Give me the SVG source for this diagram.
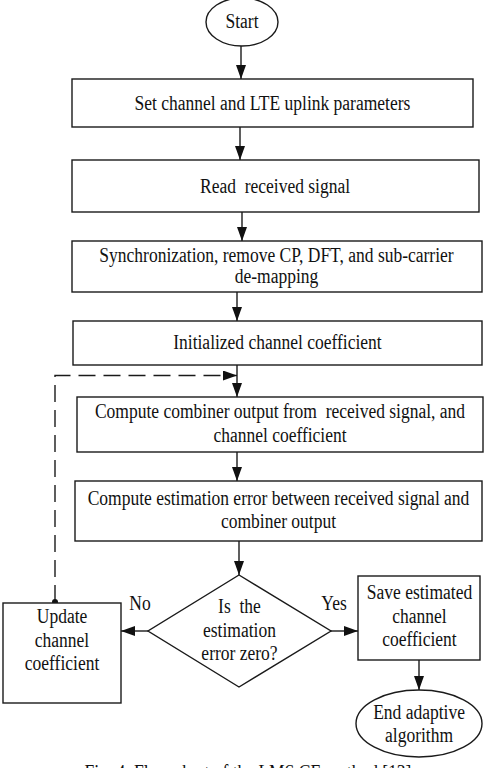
<svg xmlns="http://www.w3.org/2000/svg" width="486" height="768" viewBox="0 0 486 768">
<defs>
<marker id="ah" markerWidth="14" markerHeight="10" refX="14" refY="5" orient="auto" markerUnits="userSpaceOnUse">
<path d="M0,0 L14,5 L0,10 z" fill="#111"/>
</marker>
</defs>
<style>
.box{fill:#fff;stroke:#1a1a1a;stroke-width:1.4}
.ln{fill:none;stroke:#1a1a1a;stroke-width:1.4}
.dash{fill:none;stroke:#1a1a1a;stroke-width:1.4;stroke-dasharray:17 8}
text{font-family:"Liberation Serif","Times New Roman",serif;font-size:20px;fill:#111;text-anchor:middle}
.t{transform:scale(0.875,1)}
</style>
<rect width="486" height="768" fill="#fff"/>
<g id="connectors">
<path class="ln" d="M241,46 V79" marker-end="url(#ah)"/>
<path class="ln" d="M240,127 V160" marker-end="url(#ah)"/>
<path class="ln" d="M242,212 V241" marker-end="url(#ah)"/>
<path class="ln" d="M237,292 V321" marker-end="url(#ah)"/>
<path class="ln" d="M237,365 V397" marker-end="url(#ah)"/>
<path class="ln" d="M237,452 V481" marker-end="url(#ah)"/>
<path class="ln" d="M239,541 V575" marker-end="url(#ah)"/>
<path class="ln" d="M148,631 H121" marker-end="url(#ah)"/>
<path class="ln" d="M331,631 H358" marker-end="url(#ah)"/>
<path class="ln" d="M419,660 V690" marker-end="url(#ah)"/>
<path class="dash" d="M55,602 V375.5 H223"/>
<path class="ln" d="M223,375.5 H237" marker-end="url(#ah)"/>
<circle cx="55" cy="602" r="3" fill="#111"/>
<text class="t" x="160" y="610">No</text>
<text class="t" x="381.7" y="610">Yes</text>
</g>
<g id="start">
<ellipse class="box" cx="242" cy="22" rx="36" ry="24"/>
<text class="t" x="276.6" y="28">Start</text>
</g>
<g id="set-params">
<rect class="box" x="72" y="79" width="401" height="48"/>
<text class="t" x="311.4" y="110">Set channel and LTE uplink parameters</text>
</g>
<g id="read-signal">
<rect class="box" x="72" y="160" width="407" height="52"/>
<text class="t" x="314.3" y="193" xml:space="preserve">Read  received signal</text>
</g>
<g id="sync">
<rect class="box" x="72" y="241" width="410" height="51"/>
<text class="t" x="316" y="262">Synchronization, remove CP, DFT, and sub-carrier</text>
<text class="t" x="316" y="283.5">de-mapping</text>
</g>
<g id="init">
<rect class="box" x="73" y="321" width="409" height="44"/>
<text class="t" x="317.1" y="349">Initialized channel coefficient</text>
</g>
<g id="combiner">
<rect class="box" x="77" y="397" width="406" height="55"/>
<text class="t" x="320" y="418" xml:space="preserve">Compute combiner output from  received signal, and</text>
<text class="t" x="320" y="442">channel coefficient</text>
</g>
<g id="error">
<rect class="box" x="75" y="481" width="407" height="60"/>
<text class="t" x="318.3" y="505">Compute estimation error between received signal and</text>
<text class="t" x="318.3" y="528">combiner output</text>
</g>
<g id="decision">
<polygon class="box" points="239,575 331,631 239,687 148,631"/>
<text class="t" x="273.7" y="613" xml:space="preserve">Is  the</text>
<text class="t" x="273.7" y="637">estimation</text>
<text class="t" x="273.7" y="660">error zero?</text>
</g>
<g id="update">
<rect class="box" x="3" y="603" width="118" height="100"/>
<text class="t" x="70.9" y="623">Update</text>
<text class="t" x="70.9" y="647">channel</text>
<text class="t" x="70.9" y="670">coefficient</text>
</g>
<g id="save">
<rect class="box" x="358" y="576" width="122" height="84"/>
<text class="t" x="479.4" y="599">Save estimated</text>
<text class="t" x="479.4" y="623">channel</text>
<text class="t" x="479.4" y="646">coefficient</text>
</g>
<g id="end">
<ellipse class="box" cx="419" cy="723.5" rx="63" ry="33.5"/>
<text class="t" x="478.9" y="719">End adaptive</text>
<text class="t" x="478.9" y="742">algorithm</text>
</g>
<g id="caption">
<text class="t" x="283.4" y="779">Fig. 4. Flow chart of the LMS CE method [13]</text>
</g>
</svg>
